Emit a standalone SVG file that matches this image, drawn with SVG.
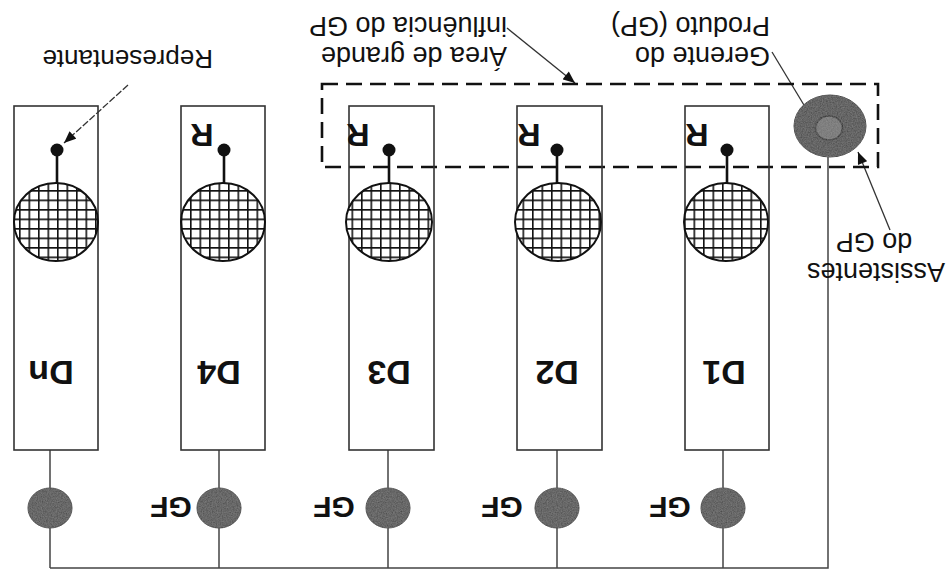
<svg xmlns="http://www.w3.org/2000/svg" width="947" height="572" viewBox="0 0 947 572">
  <style>
    .box { fill: none; stroke: #333; stroke-width: 1.6; }
    .hatch { fill: url(#grid); stroke: #111; stroke-width: 2; }
    .stem { stroke: #111; stroke-width: 2.6; }
    .dot { fill: #111; }
    .gf { fill: #4c4c4c; stroke: #333; stroke-width: 1; filter: url(#grain); }
    .wire { fill: none; stroke: #444; stroke-width: 1.5; }
    .lead { fill: none; stroke: #333; stroke-width: 1.3; }
    .zone { fill: none; stroke: #111; stroke-width: 2.6; stroke-dasharray: 16 8; }
    .big { font-family: "Liberation Sans", Arial, sans-serif; font-weight: bold; fill: #111; text-anchor: middle; }
    .note { font-family: "Liberation Sans", Arial, sans-serif; font-size: 27px; fill: #111; }
  </style>
  <defs>
    <pattern id="grid" patternUnits="userSpaceOnUse" width="9.5" height="9.5">
      <rect width="9.5" height="9.5" fill="#fff"/>
      <path d="M0 0.8 H9.5 M0.8 0 V9.5" stroke="#111" stroke-width="1.6"/>
    </pattern>
    <!-- mottled print texture for the solid discs -->
    <filter id="grain" x="-5%" y="-5%" width="110%" height="110%">
      <feTurbulence type="fractalNoise" baseFrequency="0.8" numOctaves="2" seed="4" result="noise"/>
      <feColorMatrix in="noise" type="matrix" values="0 0 0 0 0.6  0 0 0 0 0.6  0 0 0 0 0.6  0 0 0 0.3 -0.02" result="speck"/>
      <feComposite in="speck" in2="SourceGraphic" operator="in" result="specks"/>
      <feMerge><feMergeNode in="SourceGraphic"/><feMergeNode in="specks"/></feMerge>
    </filter>
    <marker id="head" viewBox="0 0 12 10" refX="12" refY="5" markerWidth="13" markerHeight="10" markerUnits="userSpaceOnUse" orient="auto">
      <path d="M0 0 L12 5 L0 10 Z" fill="#111"/>
    </marker>
  </defs>

  <rect width="947" height="572" fill="#fff"/>

  <!-- wiring: bus, drops to each department, annotation leaders -->
  <g id="connectors">
    <path class="wire" d="M50 568 H828 V157"/>
    <path class="wire" d="M50 450 V568 M219 450 V568 M388 450 V568 M557 450 V568 M723 450 V568"/>
    <line class="lead" x1="507" y1="28" x2="575" y2="83" marker-end="url(#head)"/>
    <line class="lead" x1="772" y1="52" x2="816" y2="125" marker-end="url(#head)"/>
    <line class="lead" x1="890" y1="230" x2="858" y2="152" marker-end="url(#head)"/>
    <line class="lead" x1="128" y1="85" x2="64" y2="143" stroke-dasharray="7 2" marker-end="url(#head)"/>
  </g>

  <!-- area of influence of the product manager -->
  <rect id="zone" class="zone" x="322" y="84" width="556" height="83"/>

  <!-- department Dn -->
  <g id="dept-dn">
    <rect class="box" x="14" y="106" width="84" height="344"/>
    <line class="stem" x1="57" y1="150" x2="57" y2="184"/>
    <circle class="dot" cx="57" cy="150" r="6.5"/>
    <ellipse class="hatch" cx="56" cy="222" rx="42" ry="39"/>
    <text class="big" font-size="34" transform="translate(51,373) rotate(180)" y="12">Dn</text>
    <ellipse class="gf" cx="50" cy="508" rx="22" ry="20"/>
  </g>

  <!-- department D4 -->
  <g id="dept-d4">
    <rect class="box" x="181" y="106" width="84" height="344"/>
    <line class="stem" x1="224" y1="150" x2="224" y2="184"/>
    <circle class="dot" cx="224" cy="150" r="6.5"/>
    <ellipse class="hatch" cx="223" cy="222" rx="42" ry="39"/>
    <text class="big" font-size="32" transform="translate(202,135) rotate(180)" y="11.5">R</text>
    <text class="big" font-size="34" transform="translate(219,373) rotate(180)" y="12">D4</text>
    <ellipse class="gf" cx="219" cy="508" rx="22" ry="20"/>
    <text class="big" font-size="30" transform="translate(171,508) rotate(180)" y="10.7">GF</text>
  </g>

  <!-- department D3 -->
  <g id="dept-d3">
    <rect class="box" x="349" y="106" width="85" height="344"/>
    <line class="stem" x1="389" y1="150" x2="389" y2="184"/>
    <circle class="dot" cx="389" cy="150" r="6.5"/>
    <ellipse class="hatch" cx="389" cy="222" rx="43" ry="39"/>
    <text class="big" font-size="32" transform="translate(358,135) rotate(180)" y="11.5">R</text>
    <text class="big" font-size="34" transform="translate(389,373) rotate(180)" y="12">D3</text>
    <ellipse class="gf" cx="388" cy="508" rx="22" ry="20"/>
    <text class="big" font-size="30" transform="translate(334,508) rotate(180)" y="10.7">GF</text>
  </g>

  <!-- department D2 -->
  <g id="dept-d2">
    <rect class="box" x="517" y="106" width="85" height="344"/>
    <line class="stem" x1="557" y1="150" x2="557" y2="184"/>
    <circle class="dot" cx="557" cy="150" r="6.5"/>
    <ellipse class="hatch" cx="558" cy="222" rx="43" ry="39"/>
    <text class="big" font-size="32" transform="translate(529,135) rotate(180)" y="11.5">R</text>
    <text class="big" font-size="34" transform="translate(557,373) rotate(180)" y="12">D2</text>
    <ellipse class="gf" cx="557" cy="508" rx="22" ry="20"/>
    <text class="big" font-size="30" transform="translate(502,508) rotate(180)" y="10.7">GF</text>
  </g>

  <!-- department D1 -->
  <g id="dept-d1">
    <rect class="box" x="685" y="106" width="84" height="344"/>
    <line class="stem" x1="727" y1="150" x2="727" y2="184"/>
    <circle class="dot" cx="727" cy="150" r="6.5"/>
    <ellipse class="hatch" cx="726" cy="222" rx="42" ry="39"/>
    <text class="big" font-size="32" transform="translate(697,135) rotate(180)" y="11.5">R</text>
    <text class="big" font-size="34" transform="translate(724,373) rotate(180)" y="12">D1</text>
    <ellipse class="gf" cx="723" cy="508" rx="22" ry="20"/>
    <text class="big" font-size="30" transform="translate(670,508) rotate(180)" y="10.7">GF</text>
  </g>

  <!-- product manager with assistants ring -->
  <g id="gp">
    <ellipse cx="830" cy="126" rx="36" ry="31" fill="#474747" stroke="#333" stroke-width="1" filter="url(#grain)"/>
    <ellipse cx="829" cy="128" rx="13.5" ry="12" fill="#6e6e6e" stroke="#1a1a1a" stroke-width="1.6" filter="url(#grain)"/>
  </g>

  <!-- annotations -->
  <g id="labels" class="note">
    <text font-size="26" transform="translate(213,50) rotate(180)">Representante</text>
    <text transform="translate(507,47) rotate(180)">Área de grande</text>
    <text transform="translate(507,17) rotate(180)">influência do GP</text>
    <text transform="translate(770,47) rotate(180)">Gerente do</text>
    <text transform="translate(770,17) rotate(180)">Produto (GP)</text>
    <text text-anchor="middle" transform="translate(876,263) rotate(180)">Assistentes</text>
    <text text-anchor="middle" transform="translate(874,233) rotate(180)">do GP</text>
  </g>
</svg>
